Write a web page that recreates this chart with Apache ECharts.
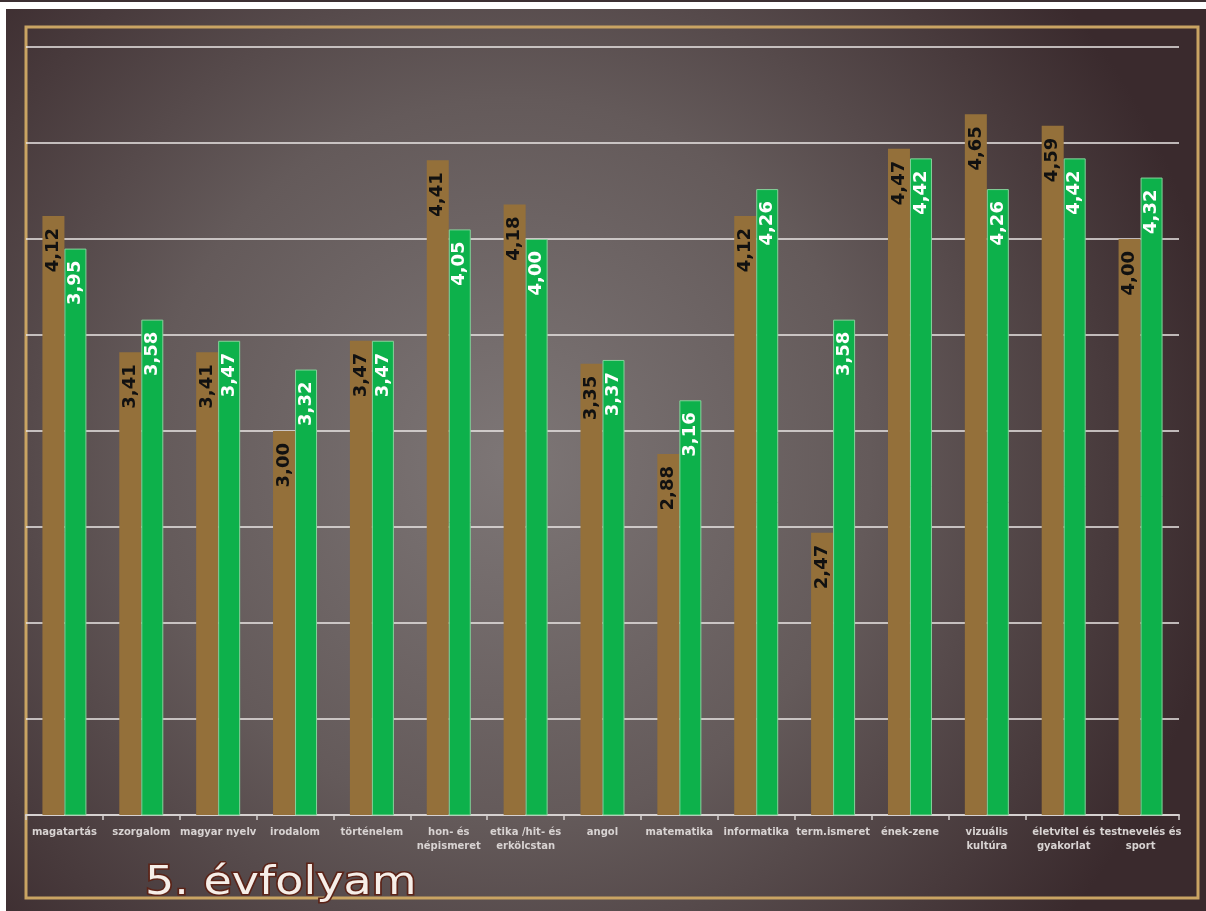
<!DOCTYPE html>
<html>
<head>
<meta charset="utf-8">
<script src="https://cdn.jsdelivr.net/npm/echarts@6/dist/echarts.min.js"></script>
<style>
html,body{margin:0;padding:0;background:#fff;}
#chart{width:1206px;height:911px;}
</style>
</head>
<body>
<div id="chart"></div>
<script>
const categories = ['magatartás','szorgalom','magyar nyelv','irodalom','történelem','hon- és\nnépismeret','etika /hit- és\nerkölcstan','angol','matematika','informatika','term.ismeret','ének-zene','vizuális\nkultúra','életvitel és\ngyakorlat','testnevelés és\nsport'];
const seriesA = [4.12,3.41,3.41,3.00,3.47,4.41,4.18,3.35,2.88,4.12,2.47,4.47,4.65,4.59,4.00];
const seriesB = [3.95,3.58,3.47,3.32,3.47,4.05,4.00,3.37,3.16,4.26,3.58,4.42,4.26,4.42,4.32];
const titleText = '5. évfolyam';

const chart = echarts.init(document.getElementById('chart'), null, {renderer:'canvas'});
const fmt = p => p.value.toFixed(2).replace('.', ',');
const labelBase = {
  show: true, rotate: 90, position: ['50%', 12], align: 'right', verticalAlign: 'middle',
  fontFamily: 'DejaVu Sans', fontWeight: 'bold', fontSize: 18, formatter: fmt
};
chart.setOption({
  backgroundColor: '#ffffff',
  animation: false,
  graphic: [
    {type:'rect', z:-10, silent:true, shape:{x:0,y:0,width:1206,height:2}, style:{fill:'#3d3033'}},
    {type:'rect', z:-10, silent:true, shape:{x:6,y:9,width:1200,height:902},
      style:{fill:{type:'radial', x:0.42, y:0.5, r:0.8, colorStops:[
        {offset:0,color:'#7d7676'},{offset:0.5,color:'#645a5a'},{offset:1,color:'#3a2a2d'}]}}},
    {type:'rect', z:-5, silent:true, shape:{x:26,y:27,width:1172,height:871},
      style:{fill:'none', stroke:'#c9a463', lineWidth:3}},
    {type:'text', z:10, silent:true, x:145, y:864, scaleX:1.18, originX:0, originY:0,
      style:{text:titleText, fontFamily:'DejaVu Sans', fontSize:39, fill:'#f6eee8',
        verticalAlign:'top', align:'left',
        stroke:'#5c2418', lineWidth:3, shadowColor:'rgba(0,0,0,0.5)', shadowBlur:3}}
  ],
  grid: {left:26, right:27, top:47, bottom:96, containLabel:false},
  xAxis: {
    type:'category', data: categories,
    axisLine:{show:true, lineStyle:{color:'#d6d1d0', width:2}},
    axisTick:{show:true, length:5, lineStyle:{color:'#d6d1d0', width:1.5}},
    axisLabel:{interval:0, margin:10, color:'#d8d3d2', fontFamily:'DejaVu Sans', fontWeight:'bold', fontSize:10, lineHeight:14}
  },
  yAxis: {
    type:'value', min:1, max:5, interval:0.5,
    axisLine:{show:false}, axisTick:{show:false}, axisLabel:{show:false},
    splitLine:{show:true, lineStyle:{color:'#ebe7e6', width:1.5}}
  },
  series: [
    {type:'bar', data: seriesA, barWidth:22, barGap:'0%',
      itemStyle:{color:'#94703a'},
      label: Object.assign({}, labelBase, {color:'#111111'})},
    {type:'bar', data: seriesB, barWidth:22, barGap:'0%',
      itemStyle:{color:'#0db14b', borderColor:'#86d29b', borderWidth:1},
      label: Object.assign({}, labelBase, {color:'#ffffff'})}
  ]
});
</script>
</body>
</html>
